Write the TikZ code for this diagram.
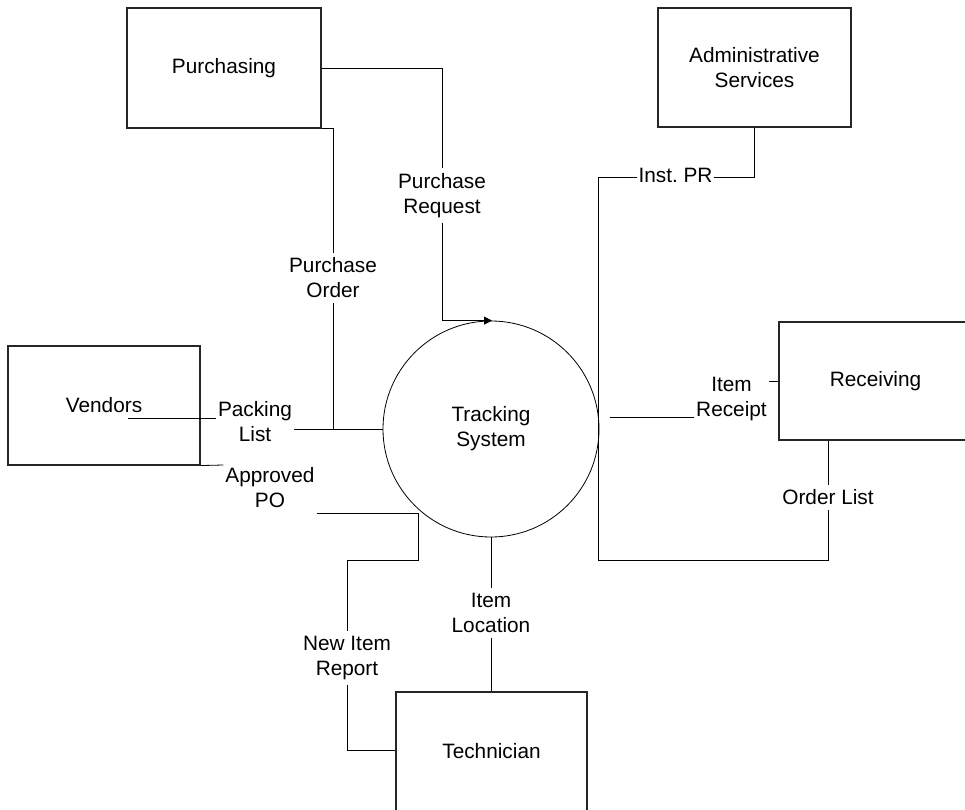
\documentclass[tikz,border=0pt]{standalone}
\usepackage{fontspec}
\setmainfont{Liberation Sans}
\usetikzlibrary{arrows.meta}
\tikzset{
  entity/.style={draw=black!85, line width=1.1bp, rectangle, inner sep=0pt},
  proc/.style={draw=black, line width=0.8bp, circle, minimum size=216bp, inner sep=0pt},
  flowlabel/.style={inner xsep=2bp, inner ysep=5bp, align=center},
  flow/.style={draw=black, line width=0.8bp},
}
\begin{document}
\begin{tikzpicture}[x=1bp, y=-1bp, font=\fontsize{20.8bp}{25bp}\selectfont]
\useasboundingbox (0,0) rectangle (965,810);
\fill[white] (0,0) rectangle (965,810);

% entities
\node[entity, minimum width=194bp, minimum height=120bp] (purch) at (224,68) {Purchasing};
\node[entity, minimum width=193bp, minimum height=119bp, align=center] (admin) at (754.5,67.5) {Administrative\\Services};
\node[entity, minimum width=192bp, minimum height=119bp] (vend) at (104,405.5) {Vendors};
\node[entity, minimum width=193bp, minimum height=118bp] (recv) at (875.5,381) {Receiving};
\node[entity, minimum width=191bp, minimum height=119bp] (tech) at (491.5,751.5) {Technician};

% process
\node[proc, align=center] (track) at (491,429) {Tracking\\System};

% flow labels
\node[flowlabel] (prq) at (442,195.2) {Purchase\\Request};
\node[flowlabel] (pord) at (333,278) {Purchase\\Order};
\node[flowlabel] (pkl) at (255,422) {Packing\\List};
\node[flowlabel] (apo) at (270,488) {Approved\\PO};
\node[flowlabel, inner xsep=1bp] (ipr) at (675.5,175) {Inst.\ PR};
\node[flowlabel] (irc) at (731.5,399.3) {Item\\Receipt};
\node[flowlabel] (ol) at (828,497.5) {Order List};
\node[flowlabel] (iloc) at (491,613) {Item\\Location};
\node[flowlabel] (nir) at (347,657.7) {New Item\\Report};

% helper coordinates
\coordinate (vstart) at (128,418);
\coordinate (iprline) at (0,177);
\coordinate (bl) at (598,560);
\coordinate (irl) at (610,417);
\coordinate (tj) at (418,513);
\coordinate (apoline) at (0,465);

% Purchase Request
\draw[flow] (purch.east) -| (prq.north);
\draw[flow, -{Triangle[length=8bp, width=8bp]}] (prq.south) |- ([xshift=1bp]track.north);

% Purchase Order
\draw[flow] (purch.south east) -| (pord.north);
\draw[flow] (pord.south) -- (pord.south |- track.west);

% Packing List
\draw[flow] (vstart) -- (vstart -| pkl.west);
\draw[flow] (pkl.east |- track.west) -- (track.west);

% Approved PO
\draw[flow] (vend.south east) -- (apo.west |- apoline);
\draw[flow] (tj -| apo.east) -- (tj);

% New Item Report
\draw[flow] (tj) -- ++(0,47) -| (nir.north);
\draw[flow] (nir.south) |- ([yshift=1.5bp]tech.west);

% Item Location
\draw[flow] (track.south) -- (iloc.north);
\draw[flow] (iloc.south) -- (iloc.south |- tech.north);

% Inst. PR and Order List
\draw[flow] (admin.south) |- (ipr.east |- iprline);
\draw[flow] (ipr.west |- iprline) -| (bl) -| (ol.south);
\draw[flow] (ol.north) -- (ol.north |- recv.south);

% Item Receipt
\draw[flow] (recv.west -| irc.east) -- (recv.west);
\draw[flow] (irl) -- (irl -| irc.west);
\end{tikzpicture}
\end{document}
